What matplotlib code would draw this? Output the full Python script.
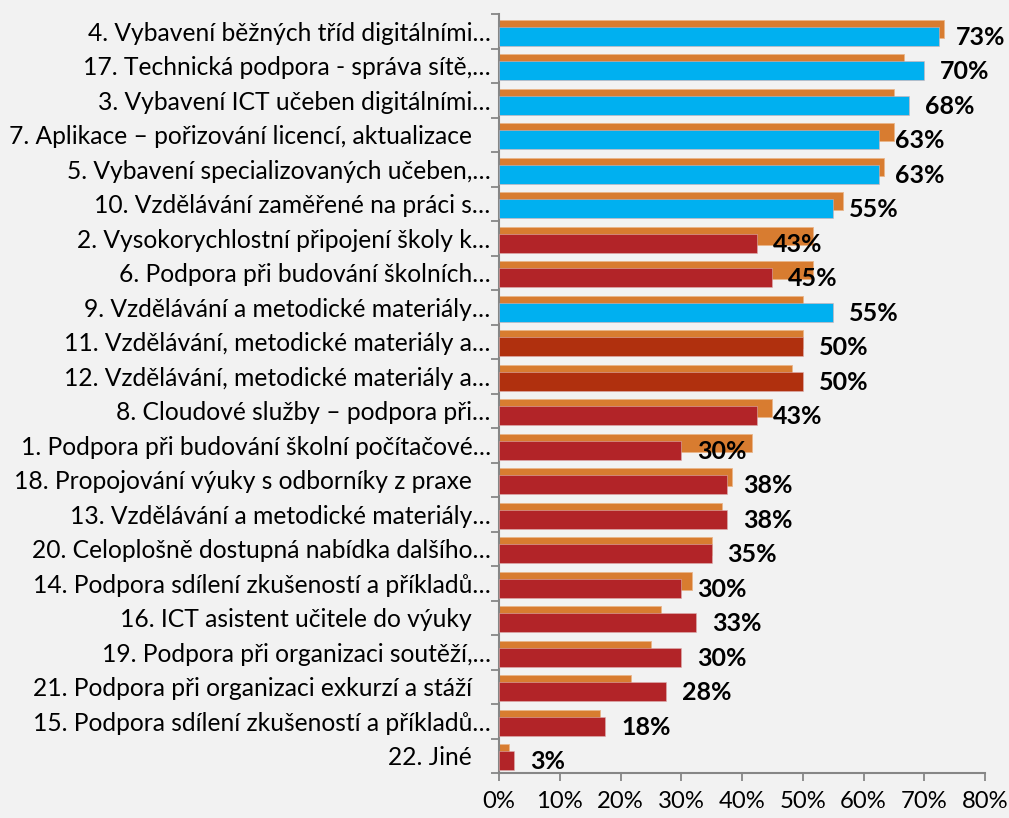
import numpy as np
import matplotlib

matplotlib.use("Agg")
import matplotlib.pyplot as plt

plt.rcParams["font.family"] = ["Lato", "DejaVu Sans"]

categories = [
    "4. Vybavení běžných tříd digitálními…",
    "17. Technická podpora - správa sítě,…",
    "3. Vybavení ICT učeben digitálními…",
    "7. Aplikace – pořizování licencí, aktualizace   ",
    "5. Vybavení specializovaných učeben,…",
    "10. Vzdělávání zaměřené na práci s…",
    "2. Vysokorychlostní připojení školy k…",
    "6. Podpora při budování školních…",
    "9. Vzdělávání a metodické materiály…",
    "11. Vzdělávání, metodické materiály a…",
    "12. Vzdělávání, metodické materiály a…",
    "8. Cloudové služby – podpora při…",
    "1. Podpora při budování školní počítačové…",
    "18. Propojování výuky s odborníky z praxe   ",
    "13. Vzdělávání a metodické materiály…",
    "20. Celoplošně dostupná nabídka dalšího…",
    "14. Podpora sdílení zkušeností a příkladů…",
    "16. ICT asistent učitele do výuky   ",
    "19. Podpora při organizaci soutěží,…",
    "21. Podpora při organizaci exkurzí a stáží   ",
    "15. Podpora sdílení zkušeností a příkladů…",
    "22. Jiné   ",
]

# front series (labelled) and the orange comparison series behind it, in %
front_values = [72.5, 70, 67.5, 62.5, 62.5, 55, 42.5, 45, 55, 50, 50, 42.5,
                30, 37.5, 37.5, 35, 30, 32.5, 30, 27.5, 17.5, 2.5]
back_values = [73.3, 66.7, 65.0, 65.0, 63.3, 56.7, 51.7, 51.7, 50.0, 50.0, 48.3, 45.0,
               41.7, 38.3, 36.7, 35.0, 31.7, 26.7, 25.0, 21.7, 16.7, 1.7]
front_group = ["top", "top", "top", "top", "top", "top", "low", "low", "top", "mid", "mid", "low",
               "low", "low", "low", "low", "low", "low", "low", "low", "low", "low"]

GROUP_COLORS = {"top": "#00B0F0", "mid": "#B0300E", "low": "#B22428"}
BACK_COLOR = "#D87C30"
BG = "#F2F2F2"
AXIS_GRAY = "#868686"

fig = plt.figure(figsize=(10.09, 8.18), dpi=100, facecolor=BG)
ax = fig.add_axes((499 / 1009, 1 - 773 / 818, 486 / 1009, 759 / 818), facecolor=BG)

y = np.arange(len(categories))
ax.barh(y - 0.07, back_values, height=0.53, color=BACK_COLOR, edgecolor="#E9B58A", linewidth=0.6, zorder=2)
ax.barh(y + 0.14, front_values, height=0.55, color=[GROUP_COLORS[g] for g in front_group],
        edgecolor="#DDB0B0", linewidth=0.4, zorder=3)

for yi, v in zip(y, front_values):
    ax.annotate(f"{int(v + 0.5)}%", xy=(v, yi + 0.14), xytext=(16, -1), textcoords="offset pixels",
                ha="left", va="center", fontsize=18, fontweight="bold", color="black", zorder=4)

ax.set_xlim(0, 80)
ax.set_ylim(len(categories) - 0.5, -0.5)
ax.set_xticks(np.arange(0, 81, 10))
ax.set_xticklabels([f"{t}%" for t in range(0, 81, 10)])
ax.set_yticks(y)
ax.set_yticklabels(categories)
ax.set_yticks(np.arange(-0.5, len(categories)), minor=True)

ax.tick_params(axis="y", which="major", length=0, pad=6, labelsize=17.7, labelcolor="black")
ax.tick_params(axis="y", which="minor", length=6, width=1.3, color=AXIS_GRAY, direction="out")
ax.tick_params(axis="x", which="major", length=6, width=1.3, color=AXIS_GRAY, pad=7,
               labelsize=17.2, labelcolor="black")

for side in ("top", "right"):
    ax.spines[side].set_visible(False)
for side in ("left", "bottom"):
    ax.spines[side].set_color(AXIS_GRAY)
    ax.spines[side].set_linewidth(1.5)

fig.savefig("out.png", dpi=100, facecolor=BG)
